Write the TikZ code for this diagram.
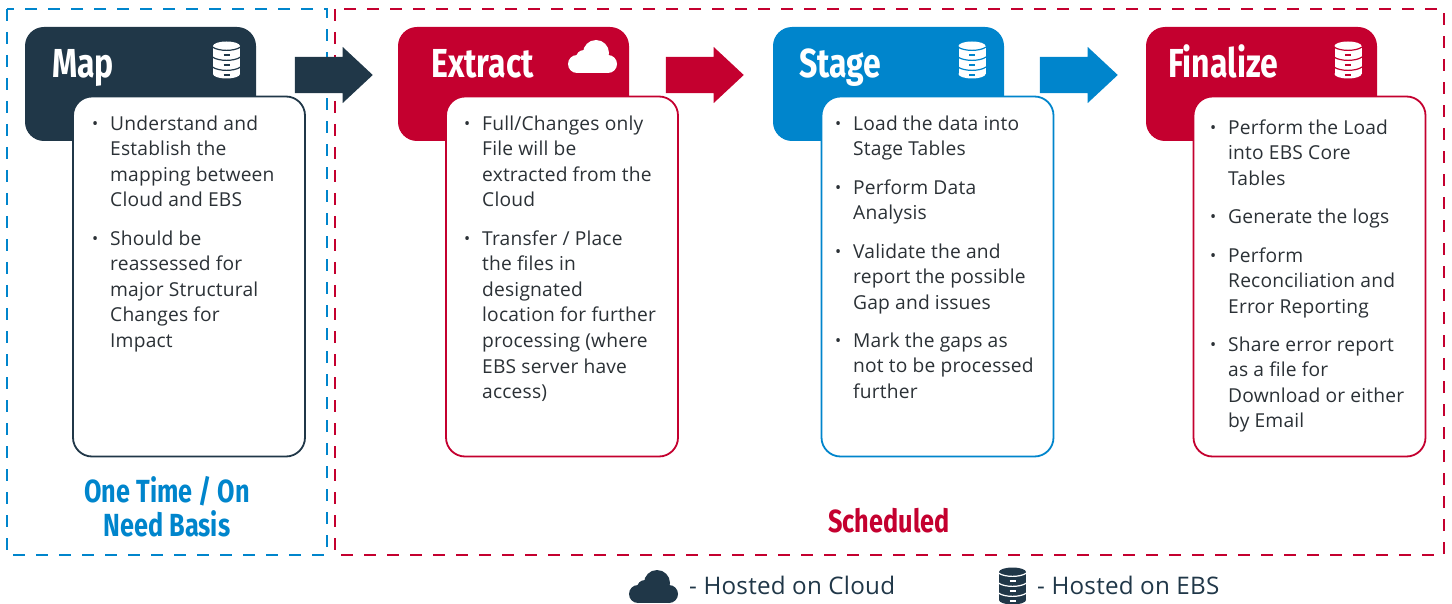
\documentclass[tikz,border=0pt]{standalone}
\usepackage{fontspec}
\setmainfont[LetterSpace=1]{Open Sans}
\newfontfamily\titlefont[FakeStretch=0.79]{Fira Sans}
\usetikzlibrary{shapes.arrows}
\definecolor{navy}{HTML}{203748}
\definecolor{crimson}{HTML}{C4002F}
\definecolor{azure}{HTML}{0085CC}
\definecolor{ink}{HTML}{2B3136}
\newcommand{\bu}{\strut\llap{\raisebox{1pt}{\scalebox{0.85}{\textbullet}}\hspace{12pt}}}
\newcommand{\dbicon}[4]{% x, y, colour, slit colour
\begin{scope}[xshift=#1pt,yshift=-#2pt]
 \fill [#3] (-13.5,-14) rectangle (13.5,14);
 \fill [#3] (0,-14) ellipse [x radius=13.5,y radius=4.5];
 \fill [#3] (0,14) ellipse [x radius=13.5,y radius=4.5];
 \foreach \dy in {-13,-3,7} {
  \draw [#4,line width=1.2pt] (-14,\dy) .. controls (-8,\dy+4.5) and (8,\dy+4.5) .. (14,\dy);
  \draw [#4,line width=1.2pt] (-3,\dy+8) -- (3,\dy+8);
 }
\end{scope}}
\newcommand{\cloudicon}[3]{% x, y, colour
\begin{scope}[xshift=#1pt,yshift=-#2pt]
 \fill [#3] (9,24) circle (9);
 \fill [#3] (16,18) circle (8);
 \fill [#3] (28,13) circle (13);
 \fill [#3] (40,24) circle (9);
 \fill [#3] (9,20) rectangle (40,33);
\end{scope}}
\tikzset{
 headbox/.style={rectangle,rounded corners=19pt,minimum width=231pt,minimum height=114pt,inner sep=0pt},
 bodybox/.style={rectangle,rounded corners=19pt,fill=white,line width=1.8pt,minimum width=232pt,minimum height=360pt,inner sep=0pt},
 titletext/.style={anchor=base west,inner sep=0pt,text=white,font=\titlefont\bfseries\fontsize{40.5}{41}\selectfont},
 itemtext/.style={anchor=north west,inner sep=0pt,align=left,text=ink,font=\fontsize{19.2}{25.6}\selectfont},
 flowarrow/.style={single arrow,single arrow head extend=10pt,single arrow tip angle=86,minimum height=78pt,minimum width=56pt,inner sep=0pt,text width=0pt,text height=36pt,shape border rotate=0},
 frametext/.style={align=center,inner sep=0pt,font=\titlefont\bfseries\fontsize{32}{34}\selectfont},
 legendtext/.style={anchor=base west,inner sep=0pt,text=navy,font=\fontsize{24.2}{25}\selectfont},
 frameline/.style={line width=2.8pt,dash pattern=on 12pt off 11pt}
}
\begin{document}
\begin{tikzpicture}[x=1pt,y=-1pt]
 \useasboundingbox (0,0) rectangle (1452,604);
 % frames
 \draw [frameline,azure] (7,9) rectangle (327,555);
 \draw [frameline,crimson] (335,9) rectangle (1444,555);
 \node (oneTime) [frametext,text=azure] at (167,507) {One Time / On\\Need Basis};
 \node (scheduled) [frametext,text=crimson] at (889,521) {Scheduled};
 % map
 \node (mapHead) [headbox,fill=navy] at (140.5,84) {};
 \node (mapTitle) [titletext] at (52,78) {Map};
 \dbicon{226.5}{60}{white}{navy}
 \node (mapBody) [bodybox,draw=navy] at (189,276.5) {};
 \node (mapA) [itemtext] at (110,112) {\bu Understand and\\Establish the\\mapping between\\Cloud and EBS};
 \node (mapB) [itemtext] at (110,227) {\bu Should be\\reassessed for\\major Structural\\Changes for\\Impact};
 \node (mapArrow) [flowarrow,fill=navy] at (324,75) {};
 % extract
 \node (extractHead) [headbox,fill=crimson] at (513.5,84) {};
 \node (extractTitle) [titletext] at (431,78) {Extract};
 \cloudicon{568}{40}{white}
 \node (extractBody) [bodybox,draw=crimson] at (562,276.5) {};
 \node (extractA) [itemtext] at (482,112) {\bu Full/Changes only\\File will be\\extracted from the\\Cloud};
 \node (extractB) [itemtext] at (482,227) {\bu Transfer / Place\\the files in\\designated\\location for further\\processing (where\\EBS server have\\access)};
 \node (extractArrow) [flowarrow,fill=crimson] at (695,75) {};
 % stage
 \node (stageHead) [headbox,fill=azure] at (888.5,84) {};
 \node (stageTitle) [titletext] at (799,78) {Stage};
 \dbicon{972}{60}{white}{azure}
 \node (stageBody) [bodybox,draw=azure] at (937.5,276.5) {};
 \node (stageA) [itemtext] at (853,112) {\bu Load the data into\\Stage Tables};
 \node (stageB) [itemtext] at (853,176) {\bu Perform Data\\Analysis};
 \node (stageC) [itemtext] at (853,240) {\bu Validate the and\\report the possible\\Gap and issues};
 \node (stageD) [itemtext] at (853,329) {\bu Mark the gaps as\\not to be processed\\further};
 \node (stageArrow) [flowarrow,fill=azure] at (1069,75) {};
 % finalize
 \node (finalHead) [headbox,fill=crimson] at (1261.5,84) {};
 \node (finalTitle) [titletext] at (1168,78) {Finalize};
 \dbicon{1348}{60}{white}{crimson}
 \node (finalBody) [bodybox,draw=crimson] at (1309.5,276.5) {};
 \node (finalA) [itemtext] at (1228,116) {\bu Perform the Load\\into EBS Core\\Tables};
 \node (finalB) [itemtext] at (1228,205) {\bu Generate the logs};
 \node (finalC) [itemtext] at (1228,244) {\bu Perform\\Reconciliation and\\Error Reporting};
 \node (finalD) [itemtext] at (1228,333) {\bu Share error report\\as a file for\\Download or either\\by Email};
 % legend
 \cloudicon{629}{570}{navy}
 \node (legendCloud) [legendtext] at (689,594) {- Hosted on Cloud};
 \dbicon{1012.5}{586}{navy}{white}
 \node (legendEbs) [legendtext] at (1037,594) {- Hosted on EBS};
\end{tikzpicture}
\end{document}
